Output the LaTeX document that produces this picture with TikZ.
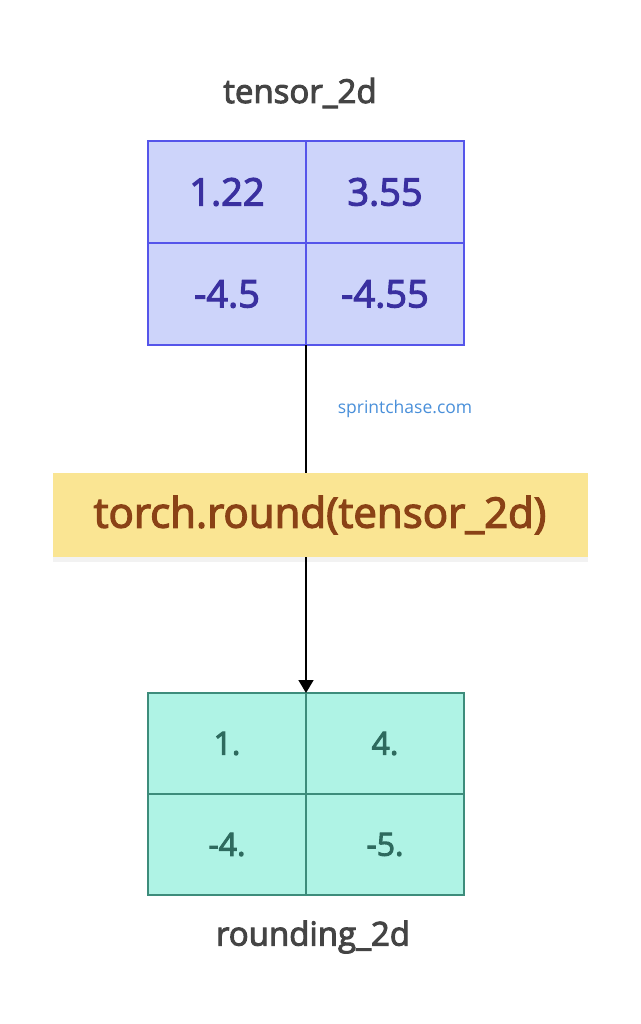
\documentclass[tikz,border=0pt]{standalone}
\usepackage{fontspec}
\setmainfont{Open Sans}
\newfontfamily\semifont{Open Sans}[FakeBold=3]
\usetikzlibrary{arrows.meta,positioning,shadows}

\definecolor{inblue}{HTML}{CDD4FA}
\definecolor{inedge}{HTML}{5555EA}
\definecolor{intext}{HTML}{3A30A0}
\definecolor{outgreen}{HTML}{AFF3E5}
\definecolor{outedge}{HTML}{3D8C7B}
\definecolor{outtext}{HTML}{2E6A5E}
\definecolor{opyellow}{HTML}{FAE593}
\definecolor{optext}{HTML}{8A4216}
\definecolor{titlegray}{HTML}{444444}
\definecolor{markblue}{HTML}{4A90DA}

\tikzset{
  incell/.style={draw=inedge,fill=inblue,text=intext,line width=1.6pt,
    minimum width=158pt,minimum height=102pt,outer sep=0pt,inner sep=0pt,
    font=\semifont\fontsize{38}{44}\selectfont},
  outcell/.style={draw=outedge,fill=outgreen,text=outtext,line width=1.6pt,
    minimum width=158pt,minimum height=101pt,outer sep=0pt,inner sep=0pt,
    font=\semifont\fontsize{32}{38}\selectfont},
  opbox/.style={fill=opyellow,text=optext,minimum width=535pt,minimum height=84pt,
    outer sep=0pt,font=\semifont\fontsize{42}{48}\selectfont,
    drop shadow={opacity=0.1,shadow xshift=0pt,shadow yshift=-5pt}},
  title/.style={text=titlegray,font=\semifont\fontsize{33}{38}\selectfont},
}

\begin{document}
\begin{tikzpicture}[x=1pt,y=-1pt]
    \useasboundingbox[fill=white] (0,0) rectangle (640,1024);

    % input tensor
    \node[incell]  (a11) [anchor=north west] at (148,141) {1.22};
    \node[incell]  (a12) [right=0pt of a11]              {3.55};
    \node[incell]  (a21) [below=0pt of a11]              {-4.5};
    \node[incell]  (a22) [below=0pt of a12]              {-4.55};
    \node[title]   (tin) at (300,93)                     {tensor\_2d};

    % operation
    \node[opbox]   (op) at (320,515)                     {torch.round(tensor\_2d)};
    \node[text=markblue,font=\fontsize{17.5}{20}\selectfont] (mark) at (405,409) {sprintchase.com};

    % output tensor
    \node[outcell] (b11) [anchor=north west] at (148,693) {1.};
    \node[outcell] (b12) [right=0pt of b11]              {4.};
    \node[outcell] (b21) [below=0pt of b11]              {-4.};
    \node[outcell] (b22) [below=0pt of b12]              {-5.};
    \node[title]   (tout) at (313,937)                   {rounding\_2d};

    \draw[line width=1.6pt] (a21.south east) -- (a21.south east |- op.north);
    \draw[line width=1.6pt,-{Triangle[width=15pt,length=13pt]}]
        (b11.north east |- op.south) -- (b11.north east);
\end{tikzpicture}
\end{document}
